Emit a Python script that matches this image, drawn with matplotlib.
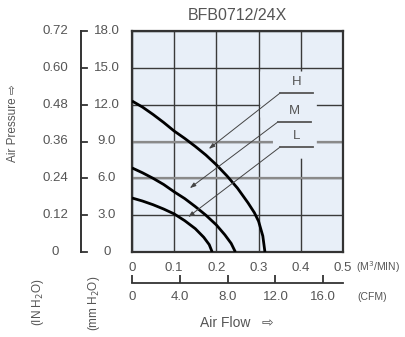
import matplotlib.pyplot as plt
from matplotlib.patches import Polygon

plt.rcParams["font.family"] = ["Liberation Sans", "DejaVu Sans"]

TEXT = "#555555"
LINE = "#333333"
BG = "#e8eff8"

# P-Q curves, flow in m3/min, static pressure in mmH2O
flow_h = [0.0, 0.025, 0.05, 0.075, 0.10, 0.125, 0.15, 0.175, 0.20, 0.225,
          0.25, 0.275, 0.29, 0.30, 0.31, 0.315]
pres_h = [12.3, 11.8, 11.2, 10.55, 9.85, 9.25, 8.6, 7.9, 7.1, 6.2,
          5.2, 4.0, 3.2, 2.5, 1.3, 0.0]
flow_m = [0.0, 0.025, 0.05, 0.075, 0.10, 0.125, 0.15, 0.175, 0.20, 0.22,
          0.235, 0.245]
pres_m = [6.85, 6.45, 6.0, 5.5, 4.9, 4.35, 3.7, 3.0, 2.2, 1.4, 0.7, 0.0]
flow_l = [0.0, 0.025, 0.05, 0.075, 0.10, 0.125, 0.15, 0.17, 0.183, 0.19]
pres_l = [4.4, 4.15, 3.85, 3.5, 3.1, 2.55, 1.9, 1.2, 0.6, 0.0]

m3_ticks = [0, 0.1, 0.2, 0.3, 0.4, 0.5]
m3_labels = ["0", "0.1", "0.2", "0.3", "0.4", "0.5"]
cfm_ticks = [0, 4, 8, 12, 16]
cfm_labels = ["0", "4.0", "8.0", "12.0", "16.0"]
mm_ticks = [0, 3, 6, 9, 12, 15, 18]
mm_labels = ["0", "3.0", "6.0", "9.0", "12.0", "15.0", "18.0"]
in_labels = ["0", "0.12", "0.24", "0.36", "0.48", "0.60", "0.72"]

# speed labels: (name, point on curve, label anchor)
speed_labels = [
    ("H", (0.182, 8.4), (0.351, 12.95)),
    ("M", (0.137, 5.2), (0.346, 10.6)),
    ("L", (0.133, 2.85), (0.351, 8.55)),
]

CFM_PER_M3 = 35.3147

W, H = 406, 337
fig = plt.figure(figsize=(W / 100, H / 100), dpi=100)
fig.patch.set_facecolor("white")
ax = fig.add_axes([132 / W, 1 - 252 / H, 211 / W, 221 / H])
ax.set_facecolor(BG)
ax.set_xlim(0, 0.5)
ax.set_ylim(0, 18)

ax.set_xticks(m3_ticks)
ax.set_xticklabels(m3_labels)
ax.set_yticks(mm_ticks)
ax.grid(True, color="#3a3a3a", lw=1.0)
for y in (6, 9):
    ax.axhline(y, color="#8a8a8a", lw=1.6, zorder=0.6)
ax.set_axisbelow(True)
ax.tick_params(axis="x", length=0, pad=7, labelsize=9.5, labelcolor=TEXT)
ax.tick_params(axis="y", length=0, labelleft=False)
for s in ax.spines.values():
    s.set_color(LINE)
    s.set_linewidth(1.6)

# clear area behind the speed labels
ax.add_patch(Polygon([(0.304, 14.7), (0.438, 14.7), (0.438, 7.6),
                      (0.334, 7.6), (0.334, 9.3), (0.304, 11.0)],
                     closed=True, facecolor=BG, edgecolor="none", zorder=1))

for fx, py in [(flow_h, pres_h), (flow_m, pres_m), (flow_l, pres_l)]:
    ax.plot(fx, py, color="black", lw=2.0, solid_capstyle="butt", zorder=4)

# speed label leaders
for name, (x0, y0), (x1, y1) in speed_labels:
    ax.annotate("", xy=(x0, y0), xytext=(x1, y1),
                arrowprops=dict(arrowstyle="-|>,head_length=0.35,head_width=0.12",
                                color="#444444", lw=0.7, shrinkA=0, shrinkB=0),
                zorder=5)
    ax.plot([x1, x1 + 0.078], [y1, y1], color="#555555", lw=1.3, zorder=5)
    ax.text(x1 + 0.039, y1 + 0.4, name, ha="center", va="bottom",
            fontsize=9.5, color=TEXT, zorder=5)

# unit after the m3/min tick labels
ax.text(1.063, -0.068, "(M$^3$/MIN)", transform=ax.transAxes, ha="left",
        va="center", fontsize=7.5, color=TEXT)

# CFM scale below the plot
sec = ax.secondary_xaxis(-31 / 221, functions=(lambda q: q * CFM_PER_M3,
                                               lambda c: c / CFM_PER_M3))
sec.set_xticks(cfm_ticks)
sec.set_xticklabels(cfm_labels)
sec.tick_params(direction="in", length=6, width=1.3, color=LINE, pad=6,
                labelsize=9.5, labelcolor=TEXT)
sec.spines["bottom"].set_color(LINE)
sec.spines["bottom"].set_linewidth(1.3)
ax.text(1.07, -0.205, "(CFM)", transform=ax.transAxes, ha="left",
        va="center", fontsize=7.5, color=TEXT)

# pressure scales on the left (mmH2O inner, inH2O outer)
ty = ax.get_yaxis_transform()
xs = (81 - 132) / 211
ax.plot([xs, xs], [0, 18], transform=ty, color=LINE, lw=1.4, clip_on=False)
for v, lab_mm, lab_in in zip(mm_ticks, mm_labels, in_labels):
    ax.plot([xs, xs + 6 / 211], [v, v], transform=ty, color=LINE, lw=1.3,
            clip_on=False)
    ax.text((107 - 132) / 211, v, lab_mm, transform=ty, ha="center",
            va="center", fontsize=9.5, color=TEXT)
    ax.text((55 - 132) / 211, v, lab_in, transform=ty, ha="center",
            va="center", fontsize=9.5, color=TEXT)

fig.text(13 / W, 1 - 123 / H, "Air Pressure \u21e8", rotation=90,
         ha="center", va="center", fontsize=8.5, color=TEXT)
fig.text(38 / W, 1 - 302 / H, "(IN H$_2$O)", rotation=90,
         ha="center", va="center", fontsize=8.5, color=TEXT)
fig.text(94 / W, 1 - 303 / H, "(mm H$_2$O)", rotation=90,
         ha="center", va="center", fontsize=8.5, color=TEXT)
fig.text(237 / W, 1 - 323 / H, "Air Flow   \u21e8", ha="center",
         va="center", fontsize=10, color=TEXT)
fig.text(237 / W, 1 - 16 / H, "BFB0712/24X", ha="center", va="center",
         fontsize=11.5, color=TEXT)

fig.savefig("out.png", dpi=100)
